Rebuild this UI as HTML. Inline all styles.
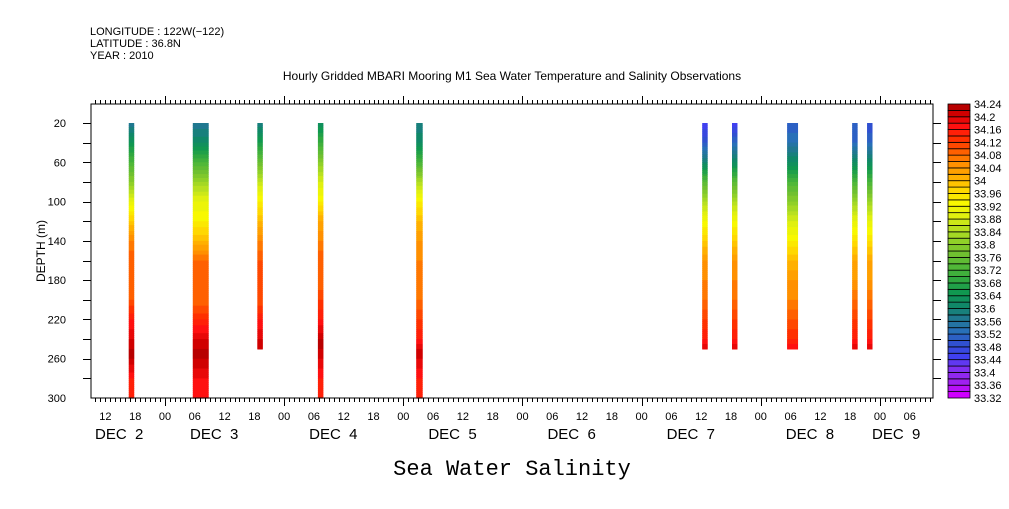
<!DOCTYPE html>
<html><head><meta charset="utf-8"><style>
body{margin:0;background:#fff;width:1009px;height:504px;overflow:hidden}
svg{font-family:"Liberation Sans",sans-serif}
</style></head><body>
<svg id="chart" width="1009" height="504">
<g font-size="11" fill="#000">
<text x="90" y="35">LONGITUDE : 122W(−122)</text>
<text x="90" y="47">LATITUDE : 36.8N</text>
<text x="90" y="59">YEAR : 2010</text>
</g>
<text x="512" y="80" font-size="12" text-anchor="middle">Hourly Gridded MBARI Mooring M1 Sea Water Temperature and Salinity Observations</text>
<text transform="translate(45,251) rotate(-90)" font-size="12" text-anchor="middle">DEPTH (m)</text>
<text x="512" y="475" font-size="22" font-family="Liberation Mono,monospace" text-anchor="middle">Sea Water Salinity</text>
<g id="marks"></g><g id="axes"></g><g id="cbar"></g>
</svg>
<script>
// data
const depths=[20,40,60,80,100,120,140,160,180,200,220,240,250,260,280,300];
const colStart=[16.7,29.6,42.6,54.8,74.6,132.2,138.2,149.3,162.4,165.4]; // hours from Dec 2 00:00
const colHours=[1.1,3.2,1.1,1.1,1.3,1.1,1.1,2.2,1.1,1.1];
const colProfiles=[
[33.56,33.64,33.72,33.80,33.90,33.98,34.06,34.10,34.08,34.10,34.16,34.20,34.22,34.22,34.16,34.14],
[33.56,33.62,33.72,33.82,33.90,33.94,34.00,34.08,34.10,34.08,34.14,34.20,34.22,34.22,34.18,34.16],
[33.58,33.66,33.76,33.86,33.94,34.00,34.06,34.10,34.10,34.10,34.16,34.20,34.22,null,null,null],
[33.62,33.70,33.80,33.88,33.94,34.02,34.06,34.10,34.08,34.12,34.16,34.22,34.22,34.20,34.16,34.14],
[33.58,33.62,33.72,33.84,33.94,34.00,34.04,34.06,34.06,34.08,34.12,34.16,34.20,34.20,34.16,34.14],
[33.44,33.50,33.60,33.74,33.84,33.92,33.98,34.04,34.06,34.08,34.12,34.16,34.20,null,null,null],
[33.44,33.52,33.62,33.74,33.84,33.92,33.98,34.04,34.06,34.08,34.12,34.16,34.20,null,null,null],
[33.50,33.54,33.62,33.72,33.80,33.88,33.94,34.00,34.04,34.06,34.10,34.14,34.18,null,null,null],
[33.50,33.52,33.62,33.72,33.82,33.90,33.96,34.02,34.04,34.08,34.12,34.16,34.20,null,null,null],
[33.48,33.52,33.62,33.72,33.82,33.90,33.96,34.02,34.04,34.08,34.12,34.16,34.20,null,null,null]
];
const cbLevels=[];for(let i=0;i<=46;i++)cbLevels.push(+(33.32+i*0.02).toFixed(2));
const xTickLabels=["12","18","00","06","12","18","00","06","12","18","00","06","12","18","00","06","12","18","00","06","12","18","00","06","12","18","00","06"];
const dayLabels=["DEC  2","DEC  3","DEC  4","DEC  5","DEC  6","DEC  7","DEC  8","DEC  9"];
const yLabels=[20,60,100,140,180,220,260,300];

const NS="http://www.w3.org/2000/svg";
const L=91,R=933,T=104,B=398;
const X=h=>165+(h-24)*4.965;
const Y=d=>123+(d-20)*(275/280);
const stops=[[33.32,[208,0,255]],[33.36,[160,32,240]],[33.40,[128,48,240]],[33.44,[64,64,240]],[33.48,[48,80,208]],[33.52,[40,112,184]],[33.56,[32,120,144]],[33.60,[16,136,104]],[33.64,[16,152,80]],[33.68,[48,168,64]],[33.72,[80,184,56]],[33.76,[112,192,48]],[33.80,[144,208,40]],[33.84,[184,224,32]],[33.88,[224,240,16]],[33.92,[248,248,0]],[33.96,[255,216,0]],[34.00,[255,176,0]],[34.04,[255,144,0]],[34.08,[255,96,0]],[34.12,[255,48,0]],[34.16,[255,16,16]],[34.20,[208,0,0]],[34.24,[160,0,0]]];
function color(v){
 v=Math.floor(v/0.02+1e-6)*0.02;
 if(v<=stops[0][0])return `rgb(${stops[0][1]})`;
 for(let i=1;i<stops.length;i++){if(v<=stops[i][0]+1e-9){const a=stops[i-1],b=stops[i],t=(v-a[0])/(b[0]-a[0]);return `rgb(${a[1].map((c,k)=>Math.round(c+(b[1][k]-c)*t)).join(',')})`;}}
 return `rgb(${stops[stops.length-1][1]})`;
}
function mk(tag,attrs,parent){const e=document.createElementNS(NS,tag);for(const k in attrs)e.setAttribute(k,attrs[k]);parent.appendChild(e);return e;}
const marks=document.getElementById('marks');
colProfiles.forEach((p,ci)=>{
 const g=mk('g',{},marks);
 
 
 const x0=X(colStart[ci]),w=colHours[ci]*4.965;
 for(let i=0;i<depths.length-1;i++){
  if(p[i]==null||p[i+1]==null)continue;
  const n=10;
  for(let s=0;s<n;s++){
   const d0=depths[i]+(depths[i+1]-depths[i])*s/n,d1=depths[i]+(depths[i+1]-depths[i])*(s+1)/n;
   const v=p[i]+(p[i+1]-p[i])*(s+0.5)/n;
   const r=mk('rect',{x:x0,y:Y(d0),width:w,height:Y(d1)-Y(d0)+0.6,fill:color(v)},g);
   
   
  }
 }
});
const ax=document.getElementById('axes');
const frame=mk('rect',{x:L,y:T,width:R-L,height:B-T,fill:'none',stroke:'#000','stroke-width':1},ax);

let tp='';
for(let h=10;X(h)<=R;h++){const x=Math.round(X(h))+0.5;const major=h%24==0;
 tp+=`M${x} ${T}V${T-(major?8:4)}M${x} ${B}V${B+(major?8:4)}`;}
[20,40,60,80,100,120,140,160,180,200,220,240,260,280].forEach(d=>{const y=Math.round(Y(d))+0.5;tp+=`M${L} ${y}H${L-8}M${R} ${y}H${R+8}`;});
const tk=mk('path',{d:tp,stroke:'#000','stroke-width':1,fill:'none'},ax);

xTickLabels.forEach((s,i)=>{const t=mk('text',{x:X(12+6*i),y:420,'font-size':11,'text-anchor':'middle'},ax);t.textContent=s;
 });
dayLabels.forEach((s,i)=>{let x=X(24*i)+25;x=Math.max(L+4,Math.min(R-61,x));
 const t=mk('text',{x:x,y:439,'font-size':15},ax);t.textContent=s;
 t.style.whiteSpace='pre';
 });
yLabels.forEach(d=>{const t=mk('text',{x:66,y:Y(d)+4,'font-size':11,'text-anchor':'end'},ax);t.textContent=d;
 });
const cb=document.getElementById('cbar');

const cbT=104,cbB=398,n=cbLevels.length-1,bh=(cbB-cbT)/n;
for(let i=0;i<n;i++){const y=cbB-(i+1)*bh;
 const r=mk('rect',{x:948,y:y,width:22,height:bh,fill:color(cbLevels[i]+0.001),stroke:'#000','stroke-width':0.8},cb);
 }
for(let i=0;i<=n;i+=2){const t=mk('text',{x:974,y:cbB-i*bh+4,'font-size':11},cb);t.textContent=String(+cbLevels[i].toFixed(2));
 }
</script>
</body></html>
